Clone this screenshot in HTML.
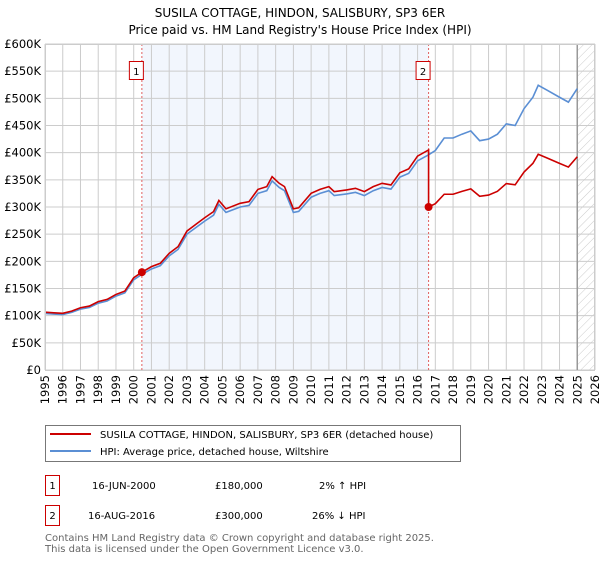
<!DOCTYPE html>
<html><head><meta charset="utf-8"><style>
body{margin:0;background:#fff;font-family:"DejaVu Sans","Liberation Sans",sans-serif;}
svg text{font-family:"DejaVu Sans","Liberation Sans",sans-serif;}
</style></head><body>
<svg id="chart" width="600" height="560" xmlns="http://www.w3.org/2000/svg">
<defs><pattern id="hatch" width="6" height="6" patternUnits="userSpaceOnUse" patternTransform="rotate(45)"><line x1="0" y1="0" x2="0" y2="6" stroke="#ccc" stroke-width="1"/></pattern></defs>
<text x="300" y="17" text-anchor="middle" font-size="12">SUSILA COTTAGE, HINDON, SALISBURY, SP3 6ER</text>
<text x="300" y="34" text-anchor="middle" font-size="12">Price paid vs. HM Land Registry's House Price Index (HPI)</text>
<g id="plot"></g>
<g>
<rect x="45.5" y="425.5" width="415" height="36" fill="#fff" stroke="#777"/>
<line x1="50" y1="434" x2="91" y2="434" stroke="#cc0000" stroke-width="2"/>
<text x="100" y="438" font-size="10">SUSILA COTTAGE, HINDON, SALISBURY, SP3 6ER (detached house)</text>
<line x1="50" y1="451" x2="91" y2="451" stroke="#5b8fd4" stroke-width="2"/>
<text x="100" y="455" font-size="10">HPI: Average price, detached house, Wiltshire</text>
</g>
<g font-size="10">
<rect x="45.5" y="475.5" width="14" height="20" fill="none" stroke="#cc0000"/>
<text x="52.5" y="489" text-anchor="middle">1</text>
<text x="92" y="489">16-JUN-2000</text><text x="215" y="489">£180,000</text><text x="319" y="489">2% ↑ HPI</text>
<rect x="45.5" y="505.5" width="14" height="20" fill="none" stroke="#cc0000"/>
<text x="52.5" y="519" text-anchor="middle">2</text>
<text x="88" y="519">16-AUG-2016</text><text x="215" y="519">£300,000</text><text x="312" y="519">26% ↓ HPI</text>
</g>
<text x="45" y="541" font-size="10" fill="#666">Contains HM Land Registry data © Crown copyright and database right 2025.</text>
<text x="45" y="552" font-size="10" fill="#666">This data is licensed under the Open Government Licence v3.0.</text>
</svg>
<script>
const hpiYears=[1995,1995.5,1996,1996.5,1997,1997.5,1998,1998.5,1999,1999.5,2000,2000.46,2001,2001.5,2002,2002.5,2003,2003.5,2004,2004.5,2004.8,2005.2,2006,2006.5,2007,2007.5,2007.8,2008.2,2008.5,2009,2009.3,2010,2010.5,2011,2011.3,2012,2012.5,2013,2013.5,2014,2014.5,2015,2015.5,2016,2016.62,2017,2017.5,2018,2018.5,2019,2019.5,2020,2020.5,2021,2021.5,2022,2022.5,2022.8,2023.3,2024,2024.5,2025];
const hpiValues=[104,103,102,106,112,115,123,127,136,142,166,176,186,192,210,222,250,262,274,285,305,290,300,303,325,330,348,336,330,290,292,318,325,330,321,324,327,321,330,336,333,355,362,385,396,404,427,427,434,440,422,425,434,453,450,481,502,524,515,502,493,518];
const saleDates=[2000.46,2016.62];
const salePrices=[180,300];
const yTicks=[0,50,100,150,200,250,300,350,400,450,500,550,600];
const yTickLabels=["£0","£50K","£100K","£150K","£200K","£250K","£300K","£350K","£400K","£450K","£500K","£550K","£600K"];
const xTicks=[1995,1996,1997,1998,1999,2000,2001,2002,2003,2004,2005,2006,2007,2008,2009,2010,2011,2012,2013,2014,2015,2016,2017,2018,2019,2020,2021,2022,2023,2024,2025,2026];

const X0=45,X1=595,Y0=370,Y1=44;
const xs=y=>X0+(y-1995)/(2026-1995)*(X1-X0);
const ys=v=>Y0-v/600*(Y0-Y1);
const NS="http://www.w3.org/2000/svg";
const g=document.getElementById('plot');
function mk(t,a){const e=document.createElementNS(NS,t);for(const k in a)e.setAttribute(k,a[k]);g.appendChild(e);return e;}
let e;
e=mk('rect',{x:xs(saleDates[0]),y:Y1,width:xs(saleDates[1])-xs(saleDates[0]),height:Y0-Y1,fill:'#eef3fc',opacity:0.75});


e=mk('rect',{x:xs(2025),y:Y1,width:X1-xs(2025),height:Y0-Y1,fill:'url(#hatch)'});


yTicks.forEach((v,i)=>{
 e=mk('line',{x1:X0,x2:X1,y1:ys(v),y2:ys(v),stroke:'#ccc'});
 
 
 e=mk('text',{x:X0-4,y:ys(v)+4,'text-anchor':'end','font-size':11.5});
 e.textContent=yTickLabels[i];
 
 
});
xTicks.forEach(y=>{
 e=mk('line',{x1:xs(y),x2:xs(y),y1:Y1,y2:Y0,stroke:'#ccc'});
 
 
 e=mk('text',{x:0,y:0,'text-anchor':'end','font-size':11.5,transform:`translate(${xs(y)+4},${Y0+5}) rotate(-90)`});
 e.textContent=y;
 
 
});
e=mk('line',{x1:xs(2025),x2:xs(2025),y1:Y1,y2:Y0,stroke:'#999','stroke-width':1.5});


saleDates.forEach((d,i)=>{
 e=mk('line',{x1:xs(d),x2:xs(d),y1:Y1,y2:Y0,stroke:'#e06060','stroke-dasharray':'2,2'});
 
 
 e=mk('rect',{x:xs(d)-12.5,y:61.5,width:14,height:18,fill:'#fff',stroke:'#cc0000'});
 
 
 e=mk('text',{x:xs(d)-5.5,y:75,'text-anchor':'middle','font-size':10});
 e.textContent=String(i+1);
 
 
});
function hpiAt(t){for(let i=0;i<hpiYears.length-1;i++){if(t<=hpiYears[i+1]){const f=(t-hpiYears[i])/(hpiYears[i+1]-hpiYears[i]);return hpiValues[i]+f*(hpiValues[i+1]-hpiValues[i]);}}return hpiValues[hpiValues.length-1];}
e=mk('polyline',{points:hpiYears.map((y,i)=>xs(y)+','+ys(hpiValues[i])).join(' '),fill:'none',stroke:'#5b8fd4','stroke-width':1.6});


let pts=[];
hpiYears.forEach((y,i)=>{
 let k=0;for(let j=0;j<saleDates.length;j++)if(y>=saleDates[j])k=j;
 if(i>0&&hpiYears[i-1]<saleDates[1]&&y>=saleDates[1]){const r0=salePrices[0]/hpiAt(saleDates[0]);pts.push(xs(saleDates[1])+','+ys(hpiAt(saleDates[1])*r0));}
 const r=salePrices[k]/hpiAt(saleDates[k]);
 pts.push(xs(y)+','+ys(hpiValues[i]*r));
});
e=mk('polyline',{points:pts.join(' '),fill:'none',stroke:'#cc0000','stroke-width':1.6});


saleDates.forEach((d,i)=>{
 e=mk('circle',{cx:xs(d),cy:ys(salePrices[i]),r:4,fill:'#cc0000'});
 
 
});
e=mk('rect',{x:X0+0.5,y:Y1+0.5,width:X1-X0-1,height:Y0-Y1,fill:'none',stroke:'#ccc'});


</script>
</body></html>
